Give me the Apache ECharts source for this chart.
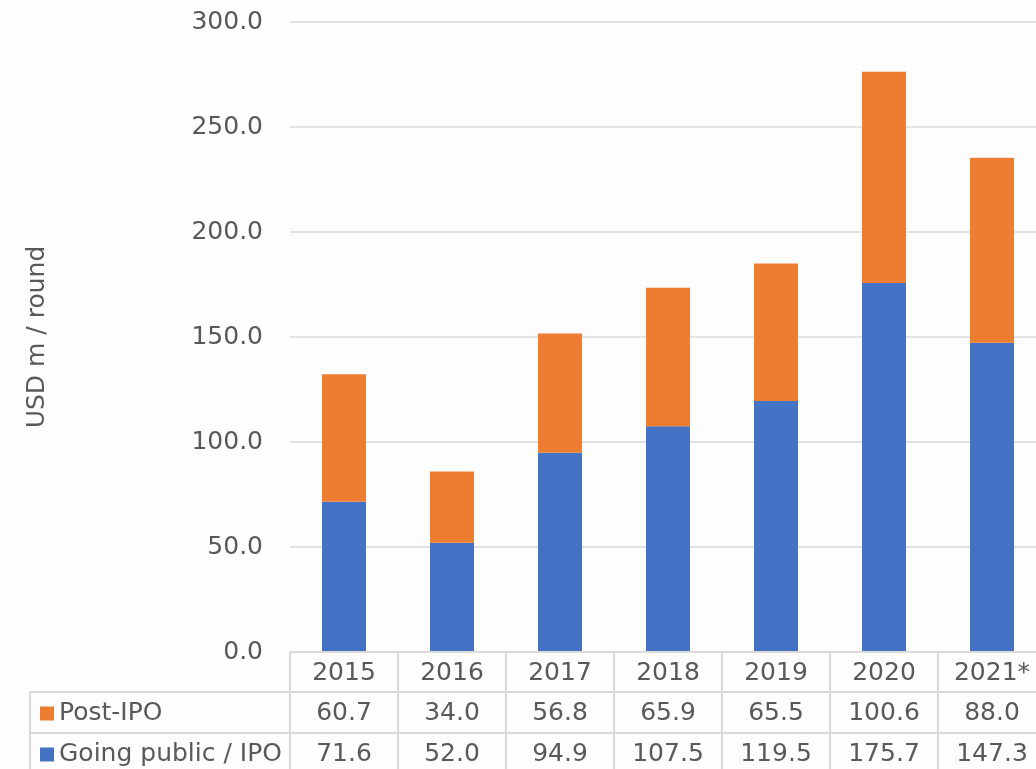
<!DOCTYPE html>
<html>
<head>
<meta charset="utf-8">
<script src="https://cdn.jsdelivr.net/npm/echarts@6/dist/echarts.min.js"></script>
<style>
  html, body { margin: 0; padding: 0; background: #fdfdfd; }
  #chart { width: 1036px; height: 769px; }
</style>
</head>
<body>
<div id="chart"></div>
<script>
// Average deal size per round, by year
const categories = ['2015', '2016', '2017', '2018', '2019', '2020', '2021*'];
const postIPO = [60.7, 34.0, 56.8, 65.9, 65.5, 100.6, 88.0];
const goingPublic = [71.6, 52.0, 94.9, 107.5, 119.5, 175.7, 147.3];
const seriesNames = ['Post-IPO', 'Going public / IPO'];
const yMin = 0, yMax = 300, yStep = 50;

const FONT = 'DejaVu Sans';
const TEXT = '#595959';
const LINE = '#d9d9d9';
const BLUE = '#4472C4';
const ORANGE = '#ED7D31';

const chart = echarts.init(document.getElementById('chart'), null, { renderer: 'canvas' });

chart.setOption({
  backgroundColor: '#fdfdfd',
  animation: false,
  // the plot runs slightly past the right edge of the page
  grid: {
    left: 290, width: 756, top: 22, bottom: 117,
    containLabel: false, outerBoundsMode: 'none'
  },
  xAxis: {
    type: 'category',
    data: categories,
    axisLine: { show: false },
    axisTick: { show: false },
    axisLabel: { show: false },
    splitLine: { show: false }
  },
  yAxis: {
    type: 'value',
    min: yMin, max: yMax, interval: yStep,
    name: 'USD m / round',
    nameLocation: 'middle',
    nameGap: 240,
    nameTextStyle: { fontFamily: FONT, fontSize: 25, color: TEXT },
    axisLine: { show: false },
    axisTick: { show: false },
    axisLabel: {
      margin: 27, fontFamily: FONT, fontSize: 25, color: TEXT,
      formatter: v => v.toFixed(1)
    },
    splitLine: { lineStyle: { color: LINE, width: 1.5 } }
  },
  series: [
    {
      name: seriesNames[1], type: 'bar', stack: 'total', data: goingPublic,
      barWidth: 44, itemStyle: { color: BLUE }
    },
    {
      name: seriesNames[0], type: 'bar', stack: 'total', data: postIPO,
      barWidth: 44, itemStyle: { color: ORANGE }
    }
  ]
});

// Data table under the plot, laid out from the category axis
function buildTable() {
  const zr = chart.getZr();
  const G = echarts.graphic;
  const centers = categories.map(c => chart.convertToPixel({ xAxisIndex: 0 }, c));
  const band = centers[1] - centers[0];
  const x0 = centers[0] - band / 2;
  const xEnd = centers[centers.length - 1] + band / 2;
  const yTop = chart.convertToPixel({ yAxisIndex: 0 }, yMin);
  const rowH = [40, 41, 41];
  const rows = [yTop, yTop + rowH[0], yTop + rowH[0] + rowH[1], yTop + rowH[0] + rowH[1] + rowH[2]];
  const labelLeft = 30;

  const line = (x1, y1, x2, y2) => zr.add(new G.Line({
    shape: { x1, y1, x2, y2 },
    style: { stroke: LINE, lineWidth: 2 }, silent: true, z: 10
  }));
  const text = (x, y, s, align) => zr.add(new G.Text({
    x, y,
    style: { text: s, fontFamily: FONT, fontSize: 25, fill: TEXT, align: align, verticalAlign: 'middle' },
    silent: true, z: 11
  }));

  // borders
  line(x0, rows[0], xEnd, rows[0]);
  for (let r = 1; r < rows.length; r++) line(labelLeft, rows[r], xEnd, rows[r]);
  line(labelLeft, rows[1], labelLeft, rows[3]);
  for (let i = 0; i <= categories.length; i++) {
    const x = x0 + i * band;
    line(x, rows[0], x, rows[3]);
  }

  // header row: years
  categories.forEach((c, i) => text(centers[i], (rows[0] + rows[1]) / 2 + 1, c, 'center'));

  // series rows with legend keys
  const tableRows = [
    { name: seriesNames[0], color: ORANGE, values: postIPO },
    { name: seriesNames[1], color: BLUE, values: goingPublic }
  ];
  tableRows.forEach((row, r) => {
    const yc = (rows[r + 1] + rows[r + 2]) / 2 + 1;
    zr.add(new G.Rect({
      shape: { x: labelLeft + 10, y: yc - 7, width: 14, height: 14 },
      style: { fill: row.color }, silent: true, z: 11
    }));
    text(labelLeft + 29, yc, row.name, 'left');
    row.values.forEach((v, i) => text(centers[i], yc, v.toFixed(1), 'center'));
  });
}
buildTable();
</script>
</body>
</html>
